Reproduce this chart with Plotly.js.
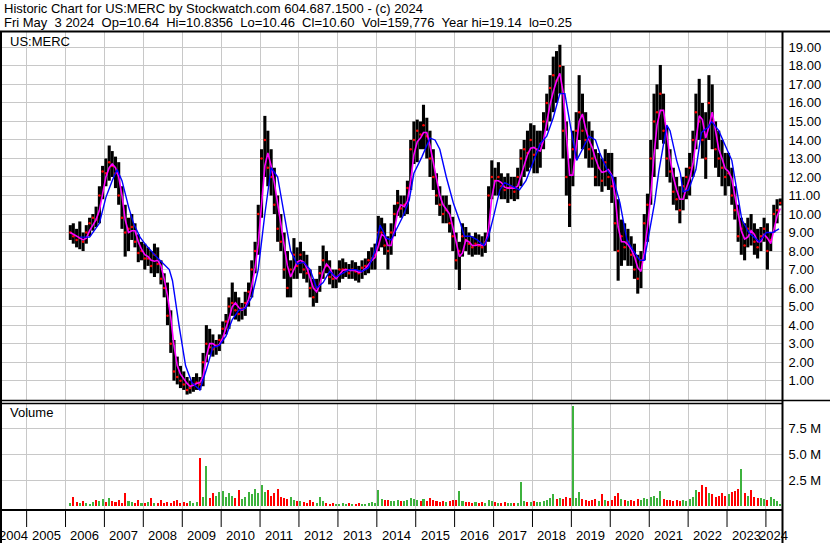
<!DOCTYPE html>
<html><head><meta charset="utf-8">
<script src="https://cdn.plot.ly/plotly-3.0.1.min.js"></script>
<style>html,body{margin:0;padding:0;background:#fff;overflow:hidden}#chart{width:830px;height:543px}</style>
</head><body><div id="chart"></div>
<script>
// ---- data (monthly, Feb 2006 .. May 2024) ----
const firstYear = 2006, firstMonth = 2, monthCount = 220;
const highs = [
 9.4,9.5,9.2,9.6,9.0,9.4,9.8,10.0,10.4,11.5,12.6,
 13.0,13.7,13.4,13.1,12.8,11.5,10.5,9.8,10.0,9.5,8.9,8.5,
 8.4,8.2,8.0,8.4,8.2,7.5,6.8,6.3,4.8,3.2,2.3,1.8,
 1.5,1.2,1.0,1.2,1.4,1.2,2.5,4.0,3.8,3.5,3.2,3.5,
 4.2,4.6,5.5,6.3,5.8,5.5,5.2,5.8,6.3,7.5,8.5,10.5,
 13.5,15.3,14.5,13.5,12.5,11.0,10.0,9.0,8.0,7.5,8.7,8.2,
 8.5,8.0,7.8,7.0,6.5,6.5,7.2,8.3,8.0,7.5,7.0,7.0,
 7.5,7.6,7.4,7.3,7.5,7.4,7.2,7.5,7.6,8.0,8.2,8.4,
 9.9,9.8,9.5,8.8,9.5,10.5,11.3,11.0,11.0,11.8,14.0,15.0,
 15.1,15.0,15.9,15.2,14.5,13.5,12.2,11.5,11.0,11.0,10.5,9.85,
 9.0,8.5,9.5,9.3,9.0,8.8,9.0,8.9,8.8,9.0,11.5,12.9,
 12.5,12.8,12.2,12.0,12.2,12.0,12.0,12.5,13.5,14.0,14.5,14.9,
 14.8,14.5,14.5,15.5,16.5,17.5,18.5,18.8,19.14,18.0,15.0,13.0,
 14.5,15.5,17.5,16.5,15.5,15.0,14.5,13.5,13.3,13.0,13.5,13.3,
 13.3,12.0,10.8,9.7,9.5,9.2,8.8,8.4,7.8,8.0,10.0,11.1,
 14.0,16.5,17.0,18.05,16.5,14.7,13.5,12.5,12.0,11.5,12.0,12.5,
 13.3,14.5,16.5,17.3,16.0,15.5,17.5,17.0,15.0,14.5,14.0,13.3,
 13.3,12.5,11.5,10.5,9.8,9.5,9.8,10.0,9.5,9.2,9.3,9.8,
 9.5,9.0,10.5,10.8,10.84
];
const lows = [
 8.6,8.4,8.2,8.1,8.0,8.4,8.8,9.1,9.3,9.5,10.8,
 11.5,11.8,12.0,11.4,10.5,9.2,7.7,8.0,8.6,8.2,7.4,7.5,
 7.0,7.2,6.8,6.6,6.8,6.2,5.5,4.0,2.5,1.0,0.8,0.6,
 0.5,0.25,0.3,0.4,0.5,0.5,0.7,2.0,2.4,2.3,2.4,2.6,
 3.0,3.5,3.8,4.5,4.3,4.2,4.3,4.5,5.0,5.5,6.8,7.8,
 9.8,12.0,11.5,11.0,10.0,8.5,8.0,6.5,5.5,5.5,6.5,6.5,
 6.8,6.5,6.3,5.5,5.0,5.2,5.8,6.5,6.8,6.2,6.0,6.0,
 6.3,6.5,6.6,6.5,6.5,6.4,6.3,6.5,6.7,6.8,7.0,7.0,
 8.0,8.2,7.8,7.0,7.8,8.8,9.9,9.8,9.9,10.0,11.3,12.7,
 12.8,13.5,13.5,13.0,12.0,11.3,10.5,9.9,9.5,9.5,9.0,8.0,
 7.0,5.9,7.7,8.0,7.8,7.7,7.8,7.8,7.7,7.9,8.5,10.8,
 11.0,11.0,10.8,10.8,10.6,10.8,10.7,10.8,11.5,12.0,12.3,12.5,
 12.2,12.2,12.5,13.5,14.5,15.0,15.5,16.0,16.5,13.0,11.0,9.3,
 11.5,13.0,14.0,13.5,13.0,12.5,12.5,11.5,11.5,11.2,11.5,11.3,
 10.6,8.0,6.4,7.2,7.5,7.2,7.2,6.5,5.7,6.0,7.5,8.5,
 10.5,12.0,13.5,14.0,13.8,12.0,11.7,10.5,10.2,9.5,10.2,10.8,
 11.0,12.0,13.5,14.0,13.0,11.9,14.0,13.5,12.5,12.0,11.5,11.0,
 11.5,10.5,9.7,8.5,7.8,7.5,8.2,8.3,7.8,7.6,8.0,8.5,
 7.0,8.0,9.0,9.5,10.46
];
const closes = [
 9.0,8.8,8.6,8.7,8.5,9.0,9.5,9.8,9.7,11.0,12.3,
 12.2,12.8,12.6,12.2,11.0,9.8,9.0,9.2,9.3,8.5,7.9,8.0,
 7.6,7.6,7.2,7.8,7.3,6.5,6.0,4.5,3.0,1.5,1.2,1.0,
 0.8,0.5,0.6,0.8,0.9,0.8,2.0,3.0,2.8,2.7,2.9,3.2,
 3.8,4.2,5.0,5.2,4.8,4.6,4.9,5.2,5.8,7.0,8.0,10.0,
 13.0,14.0,12.5,12.0,10.5,9.2,8.5,7.0,6.0,7.0,7.8,7.2,
 7.8,7.0,6.8,6.0,5.5,6.0,6.8,7.5,7.2,6.6,6.5,6.6,
 7.0,7.0,7.0,6.8,7.0,6.9,6.8,7.1,7.2,7.5,7.6,7.8,
 9.0,9.0,8.3,8.0,9.0,10.0,10.6,10.3,10.5,11.4,13.5,14.0,
 14.5,14.3,14.8,14.2,13.0,12.0,11.0,10.5,10.0,10.2,9.5,8.8,
 7.5,8.0,8.8,8.6,8.4,8.2,8.4,8.3,8.2,8.5,11.0,12.0,
 11.8,12.0,11.5,11.3,11.4,11.5,11.2,12.0,13.0,13.5,13.3,14.0,
 13.2,13.5,13.8,15.0,16.0,16.8,17.5,17.2,18.0,14.5,12.0,10.5,
 13.5,14.5,15.5,14.5,14.0,13.5,13.0,12.0,12.5,11.8,12.8,12.0,
 11.5,9.5,8.0,8.8,8.2,8.5,7.8,7.0,6.5,7.5,9.5,10.5,
 13.0,15.0,15.5,16.5,14.5,13.0,12.3,11.2,10.8,10.2,11.5,12.0,
 12.5,14.0,15.5,15.0,14.0,13.0,16.0,15.0,13.5,13.0,12.5,12.0,
 12.2,11.0,10.2,8.8,9.2,8.3,9.2,9.0,8.5,8.2,8.8,9.2,
 8.0,8.6,10.0,10.2,10.6
];
const fastMA = [
 9.0,8.9,8.8,8.7,8.6,8.7,9.1,9.4,9.7,10.2,11.1,
 12.0,12.5,12.7,12.5,12.0,11.0,9.7,9.0,9.1,9.1,8.5,8.1,
 7.8,7.7,7.5,7.45,7.5,7.2,6.5,5.6,4.4,2.9,1.8,1.35,
 1.1,0.85,0.7,0.75,0.85,0.9,1.2,2.3,3.0,3.0,2.85,2.95,
 3.3,3.8,4.35,5.0,5.2,4.95,4.8,4.95,5.4,6.1,7.1,8.4,
 10.4,12.6,13.3,12.6,11.7,10.5,9.4,8.4,7.2,6.6,7.0,7.4,
 7.5,7.4,7.1,6.6,6.0,5.8,6.2,6.9,7.3,7.1,6.7,6.5,
 6.7,6.95,7.0,6.95,6.95,6.95,6.85,6.9,7.05,7.3,7.5,7.65,
 8.3,8.9,8.8,8.3,8.3,9.1,10.1,10.5,10.4,10.7,11.8,13.2,
 13.9,14.1,14.4,14.4,13.7,12.8,11.9,11.0,10.5,10.25,10.0,9.3,
 8.5,7.7,7.9,8.6,8.5,8.3,8.3,8.35,8.3,8.35,9.2,10.9,
 11.8,11.8,11.7,11.45,11.4,11.4,11.4,11.5,12.1,12.7,13.2,13.55,
 13.6,13.45,13.4,14.0,15.0,15.9,16.6,17.2,17.6,16.6,14.3,12.1,
 12.1,13.6,15.0,15.4,14.6,14.0,13.6,13.0,12.5,12.25,12.3,12.4,
 12.1,11.0,9.3,8.5,8.5,8.35,8.1,7.7,7.1,6.9,7.9,9.3,
 11.0,13.2,14.8,15.6,15.6,14.3,13.0,12.0,11.3,10.8,10.8,11.4,
 11.9,12.7,14.1,15.3,15.1,14.1,14.7,15.5,14.5,13.5,13.0,12.45,
 12.3,11.9,11.0,10.0,9.1,8.65,8.75,9.1,8.9,8.5,8.5,8.9,
 8.7,8.4,9.1,9.9,10.3
];
const slowDates = [
 '2006-05-15','2006-08-15','2006-11-15','2007-01-15','2007-03-15','2007-04-30','2007-06-15','2007-08-15','2007-10-01','2007-12-01',
 '2008-01-15','2008-05-01','2008-09-01','2008-10-01','2008-12-01','2009-02-01','2009-04-01','2009-06-15','2009-08-15','2009-10-15',
 '2009-12-15','2010-02-15','2010-04-15','2010-06-15','2010-08-15','2010-10-15','2010-12-15','2011-02-15','2011-04-15','2011-06-15',
 '2011-08-15','2011-10-15','2011-12-15','2012-02-15','2012-04-15','2012-06-15','2012-08-15','2012-10-15','2012-12-15','2013-02-15',
 '2013-04-15','2013-06-15','2013-08-15','2013-10-15','2013-12-15','2014-01-31','2014-04-01','2014-05-15','2014-09-01','2014-11-01',
 '2014-12-15','2015-03-01','2015-05-15','2015-07-01','2015-08-15','2015-10-15','2015-12-20','2016-02-25','2016-04-01','2016-05-30',
 '2016-08-01','2016-10-01','2016-11-15','2016-12-31','2017-03-01','2017-04-15','2017-07-01','2017-09-01','2017-11-01','2018-01-10',
 '2018-03-15','2018-05-15','2018-07-15','2018-09-15','2018-11-01','2018-12-31','2019-02-20','2019-04-15','2019-06-15','2019-08-15',
 '2019-09-25','2019-12-01','2020-01-25','2020-04-01','2020-06-05','2020-08-01','2020-10-05','2020-11-15','2021-01-01','2021-02-20',
 '2021-04-01','2021-06-15','2021-07-15','2021-09-15','2021-10-20','2021-11-15','2022-01-05','2022-03-15','2022-05-05','2022-07-10',
 '2022-08-10','2022-10-15','2023-02-15','2023-05-20','2023-07-25','2023-10-30','2024-01-05','2024-03-05','2024-05-03'
];
const slowMA = [
 8.75,8.75,9.5,10.9,11.8,12.4,11.8,10.4,9.5,8.75,
 8.4,7.7,7.0,6.4,4.0,1.8,0.9,0.5,1.6,2.8,
 2.9,3.4,4.3,4.8,4.9,5.5,7.0,10.0,12.5,12.0,
 10.0,8.0,7.3,7.4,7.0,6.0,6.3,6.9,6.6,6.8,
 7.0,7.0,6.9,7.1,8.0,9.4,8.7,8.6,9.85,10.75,
 12.2,13.1,14.1,14.0,13.5,12.0,10.6,9.5,8.8,8.8,
 8.6,8.3,8.8,9.85,11.3,11.7,11.5,11.3,11.8,12.9,
 13.8,14.2,15.2,16.5,16.5,14.5,12.9,13.5,14.2,14.0,
 13.3,12.4,12.0,10.6,8.6,8.05,7.5,7.5,9.0,10.6,
 12.3,14.8,14.5,12.9,12.2,11.2,11.3,12.4,14.4,14.7,
 15.0,14.5,12.9,9.7,9.0,8.5,9.0,9.0,9.2
];
const volumes = [
 0.3,0.9,0.4,0.3,0.5,0.3,0.2,0.4,0.6,0.5,0.7,
 0.4,0.8,0.5,0.4,0.6,0.3,1.2,0.5,0.4,0.3,0.6,0.3,
 0.3,0.4,0.8,0.3,0.3,0.6,0.3,0.4,0.3,0.5,0.6,0.3,
 0.4,0.3,0.5,0.3,0.4,4.6,0.9,3.9,0.8,1.2,1.0,1.3,
 1.4,0.9,1.2,1.0,0.8,1.5,0.7,0.9,1.3,1.1,1.6,1.2,
 2.0,1.3,1.5,1.0,1.2,1.6,0.9,0.8,0.7,0.9,0.6,0.5,
 0.5,0.4,0.3,0.6,0.4,0.3,0.9,0.5,0.3,0.2,0.3,0.2,
 0.2,0.3,0.2,0.3,0.2,0.2,0.3,0.2,0.2,0.3,0.4,0.3,
 1.5,0.7,0.6,0.6,0.5,0.5,0.6,0.5,0.5,0.6,0.8,0.7,
 0.6,0.5,0.7,0.5,0.8,0.6,0.5,0.4,0.5,0.4,0.5,0.6,
 0.6,1.4,0.5,0.4,0.4,0.3,0.4,0.3,0.4,0.3,0.6,0.5,
 0.4,0.3,0.3,0.4,0.3,0.3,0.3,0.3,2.3,0.5,0.4,0.4,
 0.5,0.4,0.4,0.5,0.6,0.8,1.1,0.7,0.8,0.7,0.9,0.8,
 9.7,0.8,1.3,0.7,0.6,0.5,0.6,0.7,0.5,1.1,0.6,0.5,
 0.6,1.0,1.2,0.7,0.6,0.5,0.6,0.5,0.7,0.6,0.8,0.7,
 0.9,1.0,0.8,1.4,0.7,0.6,0.6,0.5,0.6,0.5,0.6,0.5,
 0.7,0.9,1.5,1.3,2.0,1.8,1.2,1.1,0.9,1.0,1.2,1.0,
 1.1,1.3,1.4,1.6,3.6,1.2,1.0,1.5,0.9,0.8,0.8,0.7,
 0.6,0.9,0.7,0.5,0.2
];
const yearLabels = ['2004','2005','2006','2007','2008','2009','2010','2011','2012','2013','2014','2015','2016','2017','2018','2019','2020','2021','2022','2023','2024'];
const priceTicks = [1,2,3,4,5,6,7,8,9,10,11,12,13,14,15,16,17,18,19];
const volTicks = [2.5,5.0,7.5];
const volTickText = ['2.5 M','5.0 M','7.5 M'];
const headerLine1 = 'Historic Chart for US:MERC by Stockwatch.com 604.687.1500 - (c) 2024';
const headerLine2 = 'Fri May  3 2024  Op=10.64  Hi=10.8356  Lo=10.46  Cl=10.60  Vol=159,776  Year hi=19.14  lo=0.25';
const symbolLabel = 'US:MERC';
const volumeLabel = 'Volume';

// ---- build ----
const W = 830, H = 543;
const px = x => x / W, py = y => 1 - y / H;
const pad = n => (n < 10 ? '0' : '') + n;
const dates = [];
for (let i = 0; i < monthCount; i++) {
  const m0 = firstMonth - 1 + i;
  dates.push((firstYear + Math.floor(m0 / 12)) + '-' + pad(m0 % 12 + 1) + '-15');
}
const barX = [], barY = [];
dates.forEach((d, i) => { barX.push(d, d, null); barY.push(lows[i], highs[i], null); });
const volColors = closes.map((c, i) => (i === 0 || c >= closes[i - 1]) ? '#3db23d' : '#ff0000');
const xRange = ['2004-04-26', '2024-05-31'];
const FONT = 'Liberation Sans, Arial, sans-serif';

const traces = [
  {x: barX, y: barY, type: 'scatter', mode: 'lines', line: {color: '#000', width: 3.1}, xaxis: 'x', yaxis: 'y', hoverinfo: 'skip'},
  {x: dates, y: closes, type: 'scatter', mode: 'markers', marker: {color: '#ff0000', size: 2.5}, xaxis: 'x', yaxis: 'y'},
  {x: dates, y: fastMA, type: 'scatter', mode: 'lines', line: {color: '#ff00ff', width: 1.6}, xaxis: 'x', yaxis: 'y'},
  {x: slowDates, y: slowMA, type: 'scatter', mode: 'lines', line: {color: '#0000ff', width: 1.4}, xaxis: 'x', yaxis: 'y'},
  {x: dates, y: volumes, type: 'bar', marker: {color: volColors, line: {width: 0}}, width: 19 * 86400000, xaxis: 'x2', yaxis: 'y2'}
];

const shapes = [];
const L = (x0, y0, x1, y1, w, c) => shapes.push({type: 'line', xref: 'paper', yref: 'paper', x0: px(x0), y0: py(y0), x1: px(x1), y1: py(y1), line: {color: c || '#000', width: w}});
L(0, 31.5, 830, 31.5, 2);      // top of main panel
L(1, 31, 1, 543, 2);            // left edge
L(782.5, 31, 782.5, 543, 2);    // right edge of plots
L(0, 400.5, 830, 400.5, 1.5);   // bottom of main
L(0, 403.5, 782, 403.5, 1.5);   // top of volume
L(0, 510, 782, 510, 2);         // bottom of volume
for (let y = 2005; y <= 2024; y++) {
  shapes.push({type: 'line', xref: 'x', yref: 'paper', x0: y + '-01-01', x1: y + '-01-01', y0: py(511), y1: py(527), line: {color: '#000', width: 1}});
}

const annotations = [
  {text: headerLine1.replace(/ /g, '\u00a0'), xref: 'paper', yref: 'paper', x: px(2), y: py(9), xanchor: 'left', yanchor: 'middle', showarrow: false, font: {family: FONT, size: 13, color: '#000'}},
  {text: headerLine2.replace(/ /g, '\u00a0'), xref: 'paper', yref: 'paper', x: px(2), y: py(22), xanchor: 'left', yanchor: 'middle', showarrow: false, font: {family: FONT, size: 13, color: '#000'}},
  {text: symbolLabel, xref: 'paper', yref: 'paper', x: px(8), y: py(41), xanchor: 'left', yanchor: 'middle', showarrow: false, font: {family: FONT, size: 13, color: '#000'}},
  {text: volumeLabel, xref: 'paper', yref: 'paper', x: px(8), y: py(413), xanchor: 'left', yanchor: 'middle', showarrow: false, font: {family: FONT, size: 13, color: '#000'}}
];
const t0 = new Date(xRange[0]).getTime(), t1 = new Date(xRange[1]).getTime();
yearLabels.forEach(lbl => {
  const a = Math.max(new Date(lbl + '-01-01').getTime(), t0);
  const b = Math.min(new Date((+lbl + 1) + '-01-01').getTime(), t1);
  annotations.push({text: lbl, xref: 'x2', yref: 'paper', x: new Date((a + b) / 2).toISOString().slice(0, 10), y: py(535), xanchor: 'center', yanchor: 'middle', showarrow: false, font: {family: FONT, size: 13, color: '#000'}});
});

const gridC = '#c8c8c8';
const layout = {
  width: W, height: H, margin: {l: 0, r: 0, t: 0, b: 0, pad: 0},
  paper_bgcolor: '#fff', plot_bgcolor: '#fff', showlegend: false, hovermode: false,
  font: {family: FONT, size: 13, color: '#000'},
  xaxis: {domain: [0, px(782)], type: 'date', range: xRange, anchor: 'y', showgrid: true, gridcolor: gridC, gridwidth: 1, tick0: '2005-01-01', dtick: 'M12', showticklabels: false, ticks: '', zeroline: false, showline: false},
  yaxis: {domain: [py(400), py(32)], range: [-0.043, 19.83], side: 'right', anchor: 'x', tickvals: priceTicks, ticktext: priceTicks.map(v => v.toFixed(2)), showgrid: true, gridcolor: gridC, gridwidth: 1, zeroline: false, showline: false, ticks: 'outside', ticklen: 3, tickcolor: 'rgba(0,0,0,0)', tickfont: {family: FONT, size: 13, color: '#000'}},
  xaxis2: {domain: [0, px(782)], type: 'date', range: xRange, anchor: 'y2', showgrid: true, gridcolor: gridC, gridwidth: 1, tick0: '2005-01-01', dtick: 'M12', showticklabels: false, ticks: '', zeroline: false, showline: false},
  yaxis2: {domain: [py(509), py(404)], range: [-0.31, 9.88], side: 'right', anchor: 'x2', tickvals: volTicks, ticktext: volTickText, showgrid: true, gridcolor: gridC, gridwidth: 1, zeroline: false, showline: false, ticks: 'outside', ticklen: 3, tickcolor: 'rgba(0,0,0,0)', tickfont: {family: FONT, size: 13, color: '#000'}},
  bargap: 0,
  shapes: shapes,
  annotations: annotations
};
Plotly.newPlot('chart', traces, layout, {staticPlot: true, displayModeBar: false});
</script>
</body></html>
